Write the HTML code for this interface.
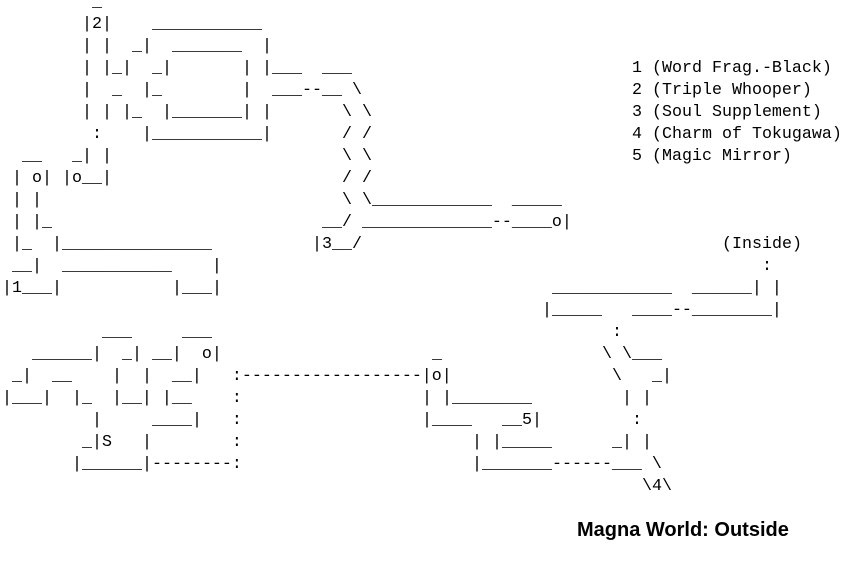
<!DOCTYPE html>
<html>
<head>
<meta charset="utf-8">
<style>
  html,body{margin:0;padding:0;background:#fff;}
  body{width:851px;height:566px;position:relative;overflow:hidden;}
  .t{position:absolute;white-space:pre;font-family:"Liberation Mono",monospace;font-size:16.667px;line-height:22px;color:#000;}
  .title{position:absolute;left:577px;top:520px;font-family:"Liberation Sans",sans-serif;font-weight:bold;font-size:20px;line-height:20px;color:#000;white-space:pre;}
</style>
</head>
<body>
<!-- row 0 -->
<div class="t" style="left:92px;top:-8px">_</div>
<!-- row 1 -->
<div class="t" style="left:82px;top:14px">|2|</div>
<div class="t" style="left:152px;top:14px">___________</div>
<!-- row 2 -->
<div class="t" style="left:82px;top:36px">| |</div>
<div class="t" style="left:132px;top:36px">_|</div>
<div class="t" style="left:172px;top:36px">_______</div>
<div class="t" style="left:262px;top:36px">|</div>
<!-- row 3 -->
<div class="t" style="left:82px;top:58px">| |_|</div>
<div class="t" style="left:152px;top:58px">_|</div>
<div class="t" style="left:242px;top:58px">| |___  ___</div>
<div class="t" style="left:632px;top:58px">1 (Word Frag.-Black)</div>
<!-- row 4 -->
<div class="t" style="left:82px;top:80px">|</div>
<div class="t" style="left:112px;top:80px">_</div>
<div class="t" style="left:142px;top:80px">|_</div>
<div class="t" style="left:242px;top:80px">|  ___--__ \</div>
<div class="t" style="left:632px;top:80px">2 (Triple Whooper)</div>
<!-- row 5 -->
<div class="t" style="left:82px;top:102px">| | |_</div>
<div class="t" style="left:162px;top:102px">|_______| |</div>
<div class="t" style="left:342px;top:102px">\ \</div>
<div class="t" style="left:632px;top:102px">3 (Soul Supplement)</div>
<!-- row 6 -->
<div class="t" style="left:92px;top:124px">:</div>
<div class="t" style="left:142px;top:124px">|___________|</div>
<div class="t" style="left:342px;top:124px">/ /</div>
<div class="t" style="left:632px;top:124px">4 (Charm of Tokugawa)</div>
<!-- row 7 -->
<div class="t" style="left:22px;top:146px">__</div>
<div class="t" style="left:72px;top:146px">_| |</div>
<div class="t" style="left:342px;top:146px">\ \</div>
<div class="t" style="left:632px;top:146px">5 (Magic Mirror)</div>
<!-- row 8 -->
<div class="t" style="left:12px;top:168px">| o| |o__|</div>
<div class="t" style="left:342px;top:168px">/ /</div>
<!-- row 9 -->
<div class="t" style="left:12px;top:190px">| |</div>
<div class="t" style="left:342px;top:190px">\ \____________  _____</div>
<!-- row 10 -->
<div class="t" style="left:12px;top:212px">| |_</div>
<div class="t" style="left:322px;top:212px">__/ _____________--____o|</div>
<!-- row 11 -->
<div class="t" style="left:12px;top:234px">|_  |_______________</div>
<div class="t" style="left:312px;top:234px">|3__/</div>
<div class="t" style="left:722px;top:234px">(Inside)</div>
<!-- row 12 -->
<div class="t" style="left:12px;top:256px">__|  ___________    |</div>
<div class="t" style="left:762px;top:256px">:</div>
<!-- row 13 -->
<div class="t" style="left:2px;top:278px">|1___|</div>
<div class="t" style="left:172px;top:278px">|___|</div>
<div class="t" style="left:552px;top:278px">____________  ______| |</div>
<!-- row 14 -->
<div class="t" style="left:542px;top:300px">|_____   ____--________|</div>
<!-- row 15 -->
<div class="t" style="left:102px;top:322px">___     ___</div>
<div class="t" style="left:612px;top:322px">:</div>
<!-- row 16 -->
<div class="t" style="left:32px;top:344px">______|  _| __|  o|</div>
<div class="t" style="left:432px;top:344px">_</div>
<div class="t" style="left:602px;top:344px">\ \___</div>
<!-- row 17 -->
<div class="t" style="left:12px;top:366px">_|  __    |  |  __|   :------------------|o|</div>
<div class="t" style="left:612px;top:366px">\   _|</div>
<!-- row 18 -->
<div class="t" style="left:2px;top:388px">|___|  |_  |__| |__    :</div>
<div class="t" style="left:422px;top:388px">| |________</div>
<div class="t" style="left:622px;top:388px">| |</div>
<!-- row 19 -->
<div class="t" style="left:92px;top:410px">|     ____|   :</div>
<div class="t" style="left:422px;top:410px">|____   __5|</div>
<div class="t" style="left:632px;top:410px">:</div>
<!-- row 20 -->
<div class="t" style="left:82px;top:432px">_|S   |        :</div>
<div class="t" style="left:472px;top:432px">| |_____</div>
<div class="t" style="left:612px;top:432px">_| |</div>
<!-- row 21 -->
<div class="t" style="left:72px;top:454px">|______|--------:</div>
<div class="t" style="left:472px;top:454px">|_______------___ \</div>
<!-- row 22 -->
<div class="t" style="left:642px;top:476px">\4\</div>

<div class="title">Magna World: Outside</div>
</body>
</html>
